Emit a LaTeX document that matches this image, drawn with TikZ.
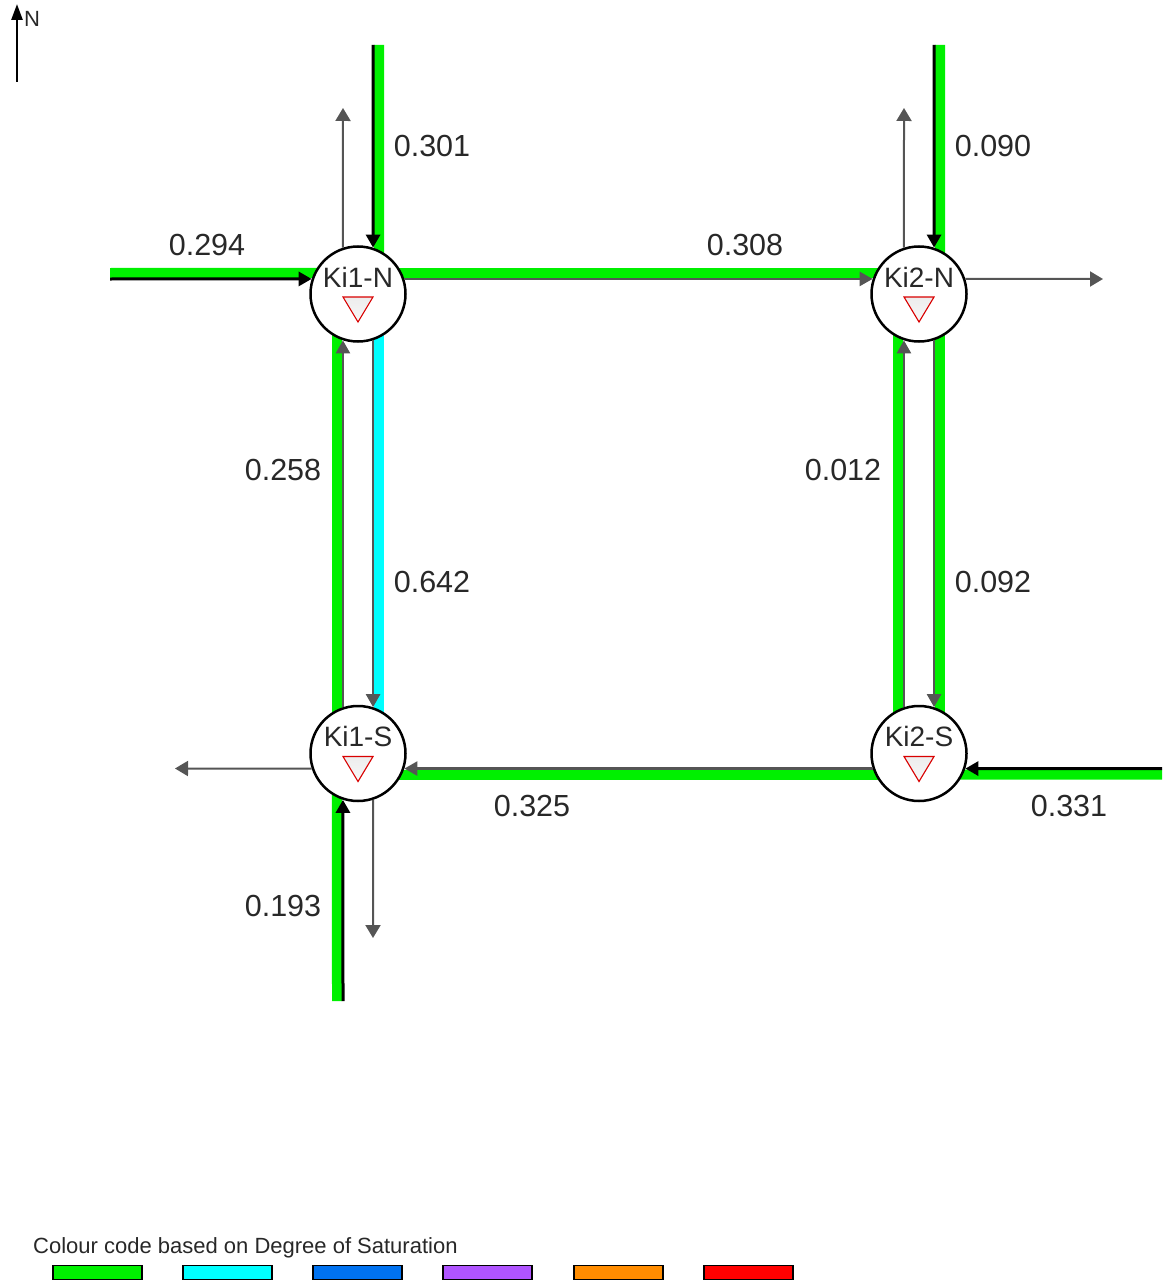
\documentclass[tikz,border=0pt]{standalone}
\usepackage{fontspec}
\setmainfont{Liberation Sans}
\usetikzlibrary{arrows.meta,backgrounds}
\definecolor{dsgreen}{RGB}{0,240,0}
\definecolor{dscyan}{RGB}{0,255,255}
\definecolor{dsblue}{RGB}{0,114,240}
\definecolor{dspurple}{RGB}{176,84,255}
\definecolor{dsorange}{RGB}{255,140,0}
\definecolor{dsred}{RGB}{255,0,0}
\definecolor{linkgray}{RGB}{85,85,85}
\definecolor{txtgray}{RGB}{40,40,40}
\begin{document}
\begin{tikzpicture}[x=1pt,y=-1pt,
  junction/.style={circle, draw=black, line width=2.5pt, fill=white, inner sep=0pt, minimum size=95pt,
    path picture={\draw[red!85!black, line width=1.1pt, top color=gray!30, bottom color=white]
      ([xshift=-15pt,yshift=-3pt]path picture bounding box.center) --
      ([xshift=15pt,yshift=-3pt]path picture bounding box.center) --
      ([yshift=-28pt]path picture bounding box.center) -- cycle;}},
  jlabel/.style={font=\fontsize{28}{30}\selectfont, text=txtgray, inner sep=0pt},
  flowlabel/.style={font=\fontsize{30.5}{34}\selectfont, text=txtgray, inner sep=0pt},
  band/.style={line width=10pt},
  inline/.style={draw=black, line width=3pt, -{Triangle[length=13pt,width=14pt]}},
  linkline/.style={draw=linkgray, line width=2.5pt, -{Triangle[length=13pt,width=14pt]}},
  outline/.style={draw=linkgray, line width=2pt, -{Triangle[length=13pt,width=15pt]}},
  legbox/.style={draw=black, line width=1.5pt, minimum width=89pt, minimum height=14pt, inner sep=0pt}
]
\useasboundingbox (0,0) rectangle (1162,1281);

% junctions
\node[junction, label={[jlabel, yshift=17pt]center:Ki1-N}] (Ki1N) at (358,294) {};
\node[junction, label={[jlabel, yshift=17pt]center:Ki2-N}] (Ki2N) at (919,294) {};
\node[junction, label={[jlabel, yshift=17pt]center:Ki1-S}] (Ki1S) at (358,753.5) {};
\node[junction, label={[jlabel, yshift=17pt]center:Ki2-S}] (Ki2S) at (919,753.5) {};

% free ends
\coordinate (w1in) at (110,279);
\coordinate (n1in) at (373,45);
\coordinate (n2in) at (934,45);
\coordinate (e2in) at (1162,768.5);
\coordinate (s1in) at (343,1001);
\coordinate (n1out) at (343,108);
\coordinate (n2out) at (904,108);
\coordinate (e2out) at (1103,279);
\coordinate (w1out) at (175,768.5);
\coordinate (s1out) at (373,938);

\begin{pgfonlayer}{background}
% saturation bands
\draw[band, dsgreen, transform canvas={yshift=6pt}, shorten >=-14pt] (w1in) -- (Ki1N.162);
\draw[band, dsgreen, transform canvas={xshift=6pt}, shorten >=-14pt] (n1in) -- (Ki1N.72);
\draw[band, dsgreen, transform canvas={xshift=6pt}, shorten >=-14pt] (n2in) -- (Ki2N.72);
\draw[band, dsgreen, transform canvas={yshift=-6pt}, shorten >=-14pt] (e2in) -- (Ki2S.-18);
\draw[band, dsgreen, transform canvas={xshift=-6pt}, shorten >=-14pt] (s1in) -- (Ki1S.252);
\draw[band, dsgreen, transform canvas={yshift=6pt}, shorten <=-14pt, shorten >=-14pt] (Ki1N.18) -- (Ki2N.162);
\draw[band, dsgreen, transform canvas={xshift=-6pt}, shorten <=-14pt, shorten >=-14pt] (Ki1S.108) -- (Ki1N.252);
\draw[band, dscyan, transform canvas={xshift=6pt}, shorten <=-14pt, shorten >=-14pt] (Ki1N.288) -- (Ki1S.72);
\draw[band, dsgreen, transform canvas={xshift=-6pt}, shorten <=-14pt, shorten >=-14pt] (Ki2S.108) -- (Ki2N.252);
\draw[band, dsgreen, transform canvas={xshift=6pt}, shorten <=-14pt, shorten >=-14pt] (Ki2N.288) -- (Ki2S.72);
\draw[band, dsgreen, transform canvas={yshift=-6pt}, shorten <=-14pt, shorten >=-14pt] (Ki2S.198) -- (Ki1S.-18);
\end{pgfonlayer}

% approach links into the network
\draw[inline] (w1in) -- (Ki1N.162);
\draw[inline] (n1in) -- (Ki1N.72);
\draw[inline] (n2in) -- (Ki2N.72);
\draw[inline] (e2in) -- (Ki2S.-18);
\draw[inline] (s1in) -- (Ki1S.252);

% internal links
\draw[linkline] (Ki1N.18) -- (Ki2N.162);
\draw[linkline] (Ki1S.108) -- (Ki1N.252);
\draw[linkline] (Ki1N.288) -- (Ki1S.72);
\draw[linkline] (Ki2S.108) -- (Ki2N.252);
\draw[linkline] (Ki2N.288) -- (Ki2S.72);
\draw[linkline] (Ki2S.198) -- (Ki1S.-18);

% exit links
\draw[outline] (Ki1N.108) -- (n1out);
\draw[outline] (Ki2N.108) -- (n2out);
\draw[outline] (Ki2N.18) -- (e2out);
\draw[outline] (Ki1S.198) -- (w1out);
\draw[outline] (Ki1S.288) -- (s1out);

% flow labels
\node[flowlabel] (l301) at (432,146) {0.301};
\node[flowlabel] (l090) at (993,146) {0.090};
\node[flowlabel] (l294) at (207,245) {0.294};
\node[flowlabel] (l308) at (745,245) {0.308};
\node[flowlabel] (l258) at (283,470) {0.258};
\node[flowlabel] (l642) at (432,582) {0.642};
\node[flowlabel] (l012) at (843,470) {0.012};
\node[flowlabel] (l092) at (993,582) {0.092};
\node[flowlabel] (l325) at (532,806) {0.325};
\node[flowlabel] (l331) at (1069,806) {0.331};
\node[flowlabel] (l193) at (283,906) {0.193};

% north arrow
\coordinate (nbot) at (17,82);
\coordinate (ntop) at (17,4);
\draw[black, line width=2.5pt, -{Triangle[length=16pt,width=11pt]}] (nbot) -- (ntop);
\node[font=\fontsize{22}{24}\selectfont, text=txtgray, inner sep=0pt] (nlab) at (32,18.5) {N};

% legend
\node[anchor=west, font=\fontsize{22}{24}\selectfont, text=txtgray, inner sep=0pt] (legtitle) at (33,1248) {Colour code based on Degree of Saturation};
\node[legbox, fill=dsgreen] (lg1) at (97.5,1272.5) {};
\node[legbox, fill=dscyan] (lg2) at (227.5,1272.5) {};
\node[legbox, fill=dsblue] (lg3) at (357.5,1272.5) {};
\node[legbox, fill=dspurple] (lg4) at (487.5,1272.5) {};
\node[legbox, fill=dsorange] (lg5) at (618.5,1272.5) {};
\node[legbox, fill=dsred] (lg6) at (748.5,1272.5) {};
\end{tikzpicture}
\end{document}
